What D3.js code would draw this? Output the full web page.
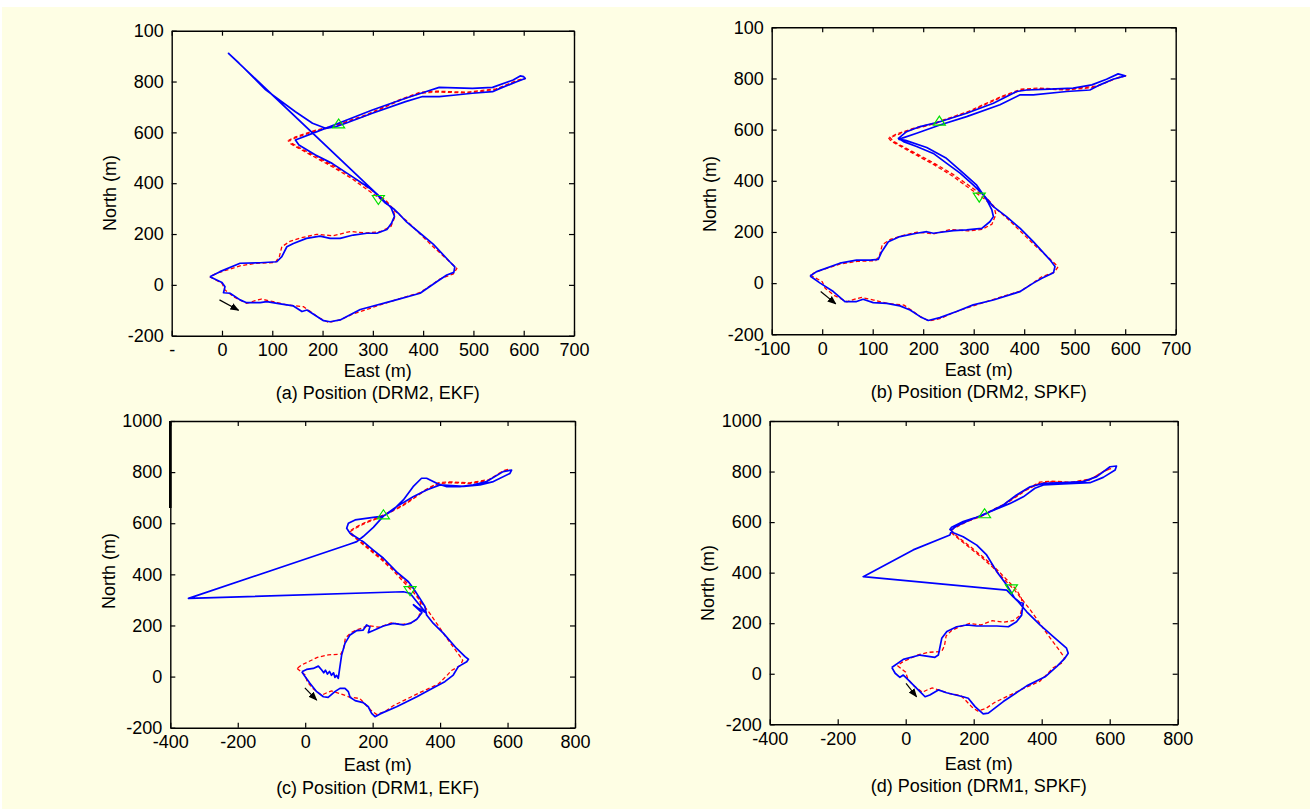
<!DOCTYPE html>
<html>
<head>
<meta charset="utf-8">
<script src="https://cdn.jsdelivr.net/npm/d3@7"></script>
<style>
body { margin: 0; background: #fff; }
text { font-family: "Liberation Sans", Arial, sans-serif; fill: #000; }
</style>
</head>
<body>
<svg id="fig" width="1310" height="809"></svg>
<script>
// reference track (GPS), same in every panel: [east, north] in m
refTrack = [[-24,32],[0,6],[6,-20],[23,-47],[49,-73],[66,-62],[78,-56],[102,-66],[129,-79],[162,-86],[176,-105],[195,-132],[212,-148],[235,-138],[261,-114],[301,-88],[341,-62],[394,-30],[420,4],[434,24],[460,43],[467,64],[450,96],[420,150],[394,200],[367,252],[348,284],[322,328],[292,370],[257,420],[222,462],[184,503],[152,538],[136,556],[132,566],[146,578],[182,603],[221,622],[288,667],[354,726],[394,754],[427,759],[487,755],[540,766],[579,798],[604,812],
    [590,807],[545,771],[487,758],[427,762],[394,758],[354,729],[288,670],[221,625],[182,606],[146,582],[134,570],[140,556],[154,540],[186,507],[224,466],[260,424],[296,374],[326,332],[340,300],[344,268],[336,230],[316,210],[288,204],[255,210],[221,193],[188,199],[155,184],[135,171],[119,150],[114,111],[106,88],[69,85],[36,75],[-10,46],[-24,32]]

// estimated tracks
drm2Ekf = [[-24,32],[0,9],[6,-7],[3,-31],[16,-33],[36,-59],[49,-70],[76,-70],[89,-66],[116,-75],[142,-83],[159,-105],[169,-99],[202,-141],[215,-145],[235,-138],[275,-97],[341,-62],[394,-33],[427,12],[447,39],[461,49],[463,71],[453,91],[420,160],[394,203],[367,248],[354,275],[341,300],[325,322],[299,373],[259,426],[219,478],[186,511],[153,550],[146,570],
    [180,596],[233,637],[299,688],[365,734],[405,760],[432,777],[498,773],[538,777],[579,806],[593,822],[600,819],[603,812],[586,799],[553,773],[538,760],[498,754],[465,747],[432,741],[399,741],[365,721],[299,675],[246,636],[226,622],
    [206,616],[180,636],[146,681],[87,767],[34,872],[13,911],[336,305],
    [343,270],[337,242],[328,218],[308,203],[288,203],[261,196],[235,183],[215,183],[195,192],[168,183],[142,163],[129,150],[119,111],[109,91],[76,87],[36,85],[-4,52],[-24,32]]

drm2Spkf = [[-24,28],[-4,0],[22,-33],[45,-72],[68,-72],[81,-63],[101,-76],[128,-79],[154,-89],[174,-105],[194,-131],[210,-146],[233,-135],[266,-111],[299,-85],[339,-66],[392,-33],[418,0],[435,19],[458,41],[461,65],[451,91],[418,162],[392,214],[365,260],[339,299],[319,345],[299,384],[273,430],[246,469],[220,507],[187,534],[161,553],[151,566],
    [167,592],[194,612],[233,631],[286,664],[339,703],[385,749],[405,755],[451,758],[497,762],[534,775],[563,797],[586,818],[593,814],[600,810],[576,797],[550,775],[530,755],[484,749],[418,736],[392,736],[352,697],[286,651],[233,618],[187,586],[160,568],[152,562],[165,558],[207,530],[246,488],[280,429],[306,383],[326,325],[336,286],[339,260],[332,240],[316,214],[286,208],[260,205],[220,195],[207,201],[187,195],[154,182],[131,162],[118,123],[111,93],[95,90],[68,90],[35,78],[-11,45],[-24,28]]

drm1Ekf = [[-10,19],[-1,1],[14,-26],[34,-59],[54,-79],[68,-81],[88,-59],[103,-46],[118,-46],[128,-59],[133,-81],[148,-94],[172,-102],[187,-118],[197,-144],[207,-157],[222,-146],[271,-118],[331,-79],[390,-37],[414,-20],[439,6],[454,39],[479,58],[484,68],[474,78],[449,110],[410,169],[380,208],[360,241],[355,274],[340,306],[321,345],[306,371],[271,410],[232,463],[202,495],[172,528],[148,548],[133,561],[123,580],
    [128,600],[148,613],[202,623],[232,628],[261,652],[291,691],[320,743],[345,776],[360,776],[390,756],[420,743],[459,743],[498,750],[538,763],[587,802],[612,808],[607,795],[558,763],[518,750],[470,744],[400,750],[360,730],[320,704],[271,665],[232,628],
    [202,584],[172,548],[153,528],[133,519],[-346,306],[291,332],
    [311,326],[331,293],[358,250],[336,267],[321,281],[346,250],[331,224],[311,208],[291,202],[261,208],[232,198],[202,180],[187,172],[192,195],[182,202],[172,182],[153,180],[133,163],[118,130],[108,84],[103,39],[98,-7],[93,5],[88,-3],[84,15],[78,5],[72,20],[66,10],[60,25],[55,15],[49,26],[39,41],[24,32],[4,28],[-10,19]]

drm1Spkf = [[-41,25],[-31,2],[-17,-14],[-7,-5],[3,-18],[22,-44],[42,-71],[57,-91],[71,-84],[96,-64],[120,-75],[169,-91],[184,-97],[204,-130],[228,-159],[243,-156],[287,-110],[356,-48],[410,-12],[444,28],[468,61],[478,81],[473,101],[434,147],[395,193],[356,245],[331,285],[321,298],[297,351],[268,404],[238,470],[209,509],[169,542],[140,558],[130,571],
    [135,580],[169,602],[228,628],[287,668],[326,707],[366,740],[405,753],[463,756],[522,760],[562,780],[601,819],[620,822],[616,806],[581,777],[542,756],[463,751],[405,747],[380,734],[346,700],[307,674],[248,641],[189,608],[150,585],[135,569],
    [130,549],[22,490],[-125,384],[297,331],
    [318,302],[336,282],[346,279],[343,255],[341,232],[326,206],[302,186],[268,189],[238,189],[209,189],[179,193],[150,186],[121,167],[106,140],[101,107],[96,74],[86,65],[42,74],[-7,57],[-41,25]]

estTracks = [drm2Ekf, drm2Spkf, drm1Ekf, drm1Spkf]

// GPS outage start / end markers
outageStart = [232, 635]
outageEnd = [311, 334]

// direction arrows, tail and head
arrowTails = [[-5,-59], [-3,-33], [-1,-44], [1,-38]]
arrowHeads = [[33,-100], [27,-81], [34,-92], [32,-91]]

captions = ['(a) Position (DRM2, EKF)', '(b) Position (DRM2, SPKF)', '(c) Position (DRM1, EKF)', '(d) Position (DRM1, SPKF)']

xTicksDrm2 = [-100, 0, 100, 200, 300, 400, 500, 600, 700]
xTicksDrm1 = [-400, -200, 0, 200, 400, 600, 800]
yTicks = [-200, 0, 200, 400, 600, 800, 1000]
// labels as they appear (some are clipped in the original)
xLabels = [['-','0','100','200','300','400','500','600','700'],
           ['-100','0','100','200','300','400','500','600','700'],
           ['-400','-200','0','200','400','600','800'],
           ['-400','-200','0','200','400','600','800']]
yLabels = [['-200','0','200','400','600','800','100'],
           ['-200','0','200','400','600','800','100'],
           ['-200','0','200','400','600','800','1000'],
           ['-200','0','200','400','600','800','1000']]

// panel boxes in px
layout = [
    {left: 171.7, right: 574, top: 30.7, bottom: 335.7, xDom: [-100, 700], xTicks: xTicksDrm2, eastY: 377, capY: 399, northY: 193},
    {left: 771.7, right: 1175.7, top: 27.3, bottom: 334.3, xDom: [-100, 700], xTicks: xTicksDrm2, eastY: 376, capY: 398, northY: 194},
    {left: 170.3, right: 575, top: 421, bottom: 727.7, xDom: [-400, 800], xTicks: xTicksDrm1, eastY: 771, capY: 794, northY: 571},
    {left: 769.7, right: 1177.7, top: 421, bottom: 724.3, xDom: [-400, 800], xTicks: xTicksDrm1, eastY: 770, capY: 792, northY: 583}
]

let svg = d3.select('#fig')
svg.append('rect').attr('x', 2).attr('y', 7).attr('width', 1308).attr('height', 802).attr('fill', '#fefee4')

let defs = svg.append('defs')
defs.append('marker').attr('id', 'head')
    .attr('viewBox', '0 0 10 10').attr('refX', 9).attr('refY', 5)
    .attr('markerWidth', 9).attr('markerHeight', 9).attr('markerUnits', 'userSpaceOnUse')
    .attr('orient', 'auto')
    .append('path').attr('d', 'M0,1 L10,5 L0,9 Z').attr('fill', '#000')

layout.forEach((p, i) => {
    let x = d3.scaleLinear().domain(p.xDom).range([p.left, p.right])
    let y = d3.scaleLinear().domain([-200, 1000]).range([p.bottom, p.top])
    let g = svg.append('g')

    defs.append('clipPath').attr('id', 'clip' + i).append('rect')
        .attr('x', p.left).attr('y', p.top).attr('width', p.right - p.left).attr('height', p.bottom - p.top)

    let line = d3.line().x(d => x(d[0])).y(d => y(d[1]))
    let plot = g.append('g').attr('clip-path', `url(#clip${i})`)

    plot.append('path').datum(refTrack)
        .attr('d', line).attr('fill', 'none')
        .attr('stroke', '#ff0000').attr('stroke-width', 1.3).attr('stroke-dasharray', '4,2.5')

    plot.append('path').datum(estTracks[i])
        .attr('d', line).attr('fill', 'none')
        .attr('stroke', '#0000ff').attr('stroke-width', 1.7).attr('stroke-linejoin', 'round')

    // outage markers: up triangle at start, down triangle at end
    plot.append('polygon')
        .attr('points', '-6,4.5 6,4.5 0,-4.5')
        .attr('transform', `translate(${x(outageStart[0])},${y(outageStart[1])})`)
        .attr('fill', 'none').attr('stroke', '#00e000').attr('stroke-width', 1.2)
    plot.append('polygon')
        .attr('points', '-6,-4.5 6,-4.5 0,4.5')
        .attr('transform', `translate(${x(outageEnd[0])},${y(outageEnd[1])})`)
        .attr('fill', 'none').attr('stroke', '#00e000').attr('stroke-width', 1.2)

    plot.append('line')
        .attr('x1', x(arrowTails[i][0])).attr('y1', y(arrowTails[i][1]))
        .attr('x2', x(arrowHeads[i][0])).attr('y2', y(arrowHeads[i][1]))
        .attr('stroke', '#000').attr('stroke-width', 1.2).attr('marker-end', 'url(#head)')

    // axes, ticks inward on all four sides
    let fmtX = (d, k) => xLabels[i][k]
    let fmtY = (d, k) => yLabels[i][k]
    g.append('g').attr('transform', `translate(0,${p.bottom})`)
        .call(d3.axisBottom(x).tickValues(p.xTicks).tickFormat(fmtX).tickSizeInner(-5).tickSizeOuter(0).tickPadding(8))
    g.append('g').attr('transform', `translate(0,${p.top})`)
        .call(d3.axisTop(x).tickValues(p.xTicks).tickFormat('').tickSizeInner(-5).tickSizeOuter(0))
    g.append('g').attr('transform', `translate(${p.left},0)`)
        .call(d3.axisLeft(y).tickValues(yTicks).tickFormat(fmtY).tickSizeInner(-5).tickSizeOuter(0).tickPadding(8))
    g.append('g').attr('transform', `translate(${p.right},0)`)
        .call(d3.axisRight(y).tickValues(yTicks).tickFormat('').tickSizeInner(-5).tickSizeOuter(0))

    g.selectAll('.domain').attr('stroke', '#000').attr('stroke-width', 1.4)
    g.selectAll('.tick line').attr('stroke', '#000').attr('stroke-width', 1.2)
    g.selectAll('.tick text').attr('font-size', 18).style('font-family', '"Liberation Sans", Arial, sans-serif')

    let cx = (p.left + p.right) / 2 + 5
    g.append('text').attr('x', cx).attr('y', p.eastY).attr('text-anchor', 'middle').attr('font-size', 18).text('East (m)')
    g.append('text').attr('x', cx).attr('y', p.capY).attr('text-anchor', 'middle').attr('font-size', 18).text(captions[i])
    g.append('text')
        .attr('transform', `translate(${p.left - 62},${p.northY}) rotate(-90)`)
        .attr('text-anchor', 'middle').attr('dy', '0.35em').attr('font-size', 18).text('North (m)')
})

// rendering artefact in (c): thicker stretch of the left axis near the top
svg.append('line').attr('x1', 170.3).attr('x2', 170.3).attr('y1', 421).attr('y2', 508)
    .attr('stroke', '#000').attr('stroke-width', 2.6)
</script>
</body>
</html>
